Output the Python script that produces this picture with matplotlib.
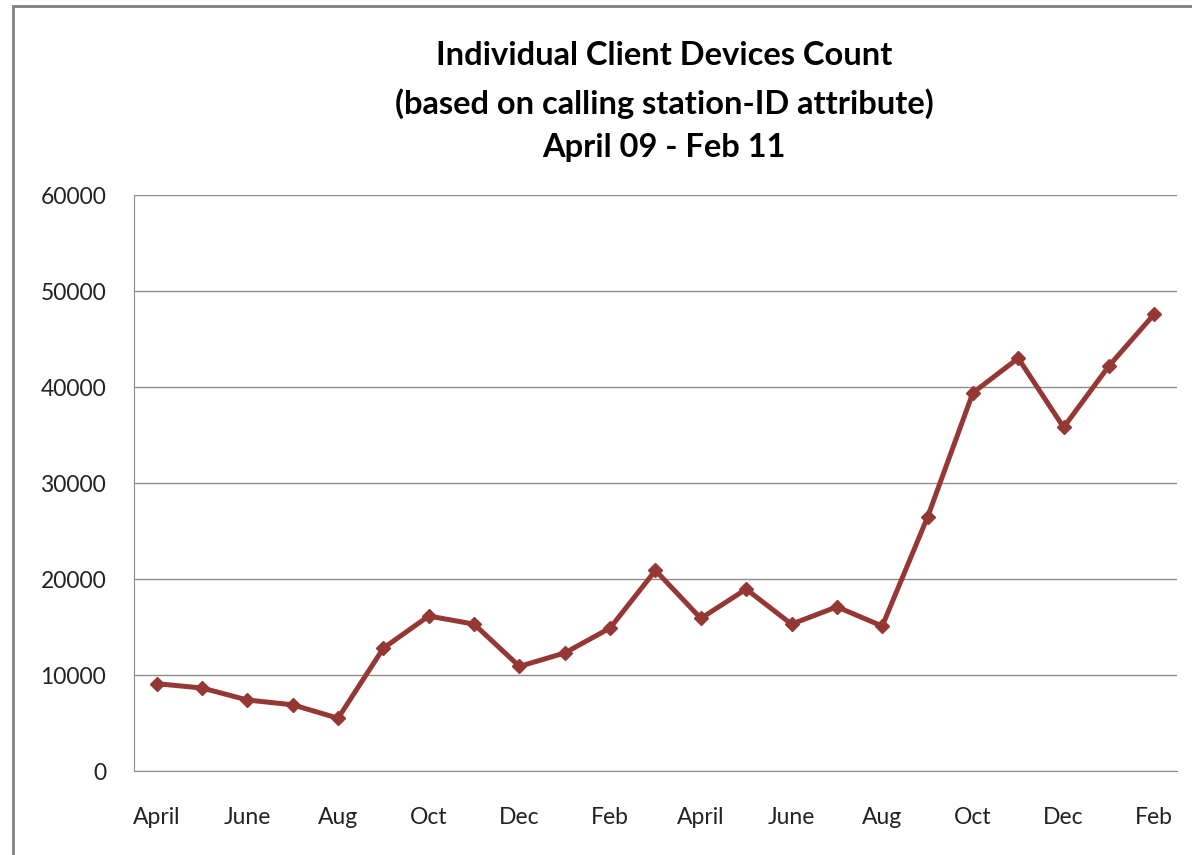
import matplotlib.pyplot as plt
from matplotlib.patches import Rectangle

months = ["April", "May", "June", "July", "Aug", "Sep", "Oct", "Nov", "Dec", "Jan", "Feb", "Mar",
          "April", "May", "June", "July", "Aug", "Sep", "Oct", "Nov", "Dec", "Jan", "Feb"]
counts = [9100, 8650, 7400, 6900, 5500, 12800, 16150, 15300, 10900, 12300, 14900, 20900,
          15900, 18950, 15300, 17100, 15100, 26450, 39400, 43000, 35800, 42200, 47600]
yticks = [0, 10000, 20000, 30000, 40000, 50000, 60000]

plt.rcParams['font.family'] = ['Lato', 'DejaVu Sans']

fig = plt.figure(figsize=(11.92, 8.55), dpi=100)
ax = fig.add_axes([0.1124, 0.0982, 0.8750, 0.6737])

x = list(range(len(counts)))
ax.plot(x, counts, color='#953735', lw=3.6, marker='D', markersize=7.5, zorder=3)

ax.set_xlim(-0.5, len(counts) - 0.5)
ax.set_ylim(0, 60000)
ax.set_yticks(yticks)
ax.set_yticklabels([str(v) for v in yticks], fontsize=16.5, color='#222222')
ax.set_xticks(x[::2])
ax.set_xticklabels(months[::2], fontsize=16.5, color='#222222')
ax.tick_params(length=0)
ax.tick_params(axis='y', pad=20)
ax.tick_params(axis='x', pad=26)
ax.grid(axis='y', color='#8c8c8c', lw=1)
ax.set_axisbelow(True)
for s in ['top', 'right']:
    ax.spines[s].set_visible(False)
for s in ['left', 'bottom']:
    ax.spines[s].set_color('#8c8c8c')

title_lines = ["Individual Client Devices Count",
               "(based on calling station-ID attribute)",
               "April 09 - Feb 11"]
for t, yy in zip(title_lines, [0.935, 0.879, 0.827]):
    fig.text(0.557, yy, t, ha='center', va='center', fontsize=23.5, fontweight='bold')

fig.patches.append(Rectangle((13 / 1192, -0.1), 1.2, 1.1 - 6 / 855,
                             transform=fig.transFigure, fill=False,
                             edgecolor='#808080', lw=2))

fig.savefig('out.png', dpi=100)
